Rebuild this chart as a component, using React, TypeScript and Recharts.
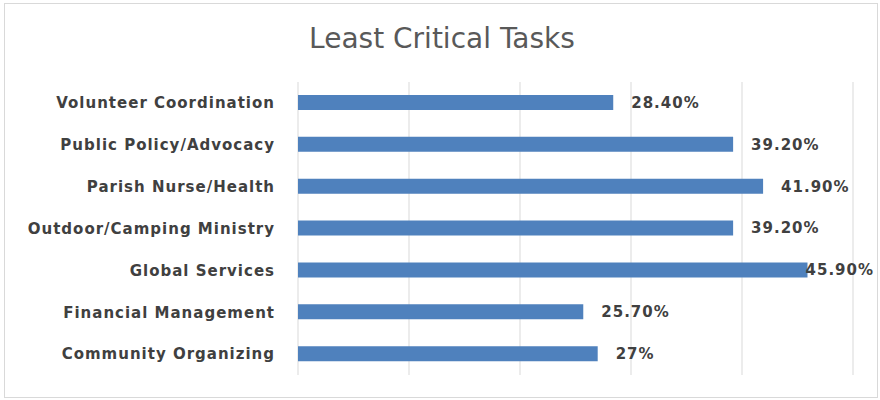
import React from 'react';
import { BarChart, Bar, XAxis, YAxis, CartesianGrid, LabelList } from 'recharts';

const tasks = [
  'Volunteer Coordination',
  'Public Policy/Advocacy',
  'Parish Nurse/Health',
  'Outdoor/Camping Ministry',
  'Global Services',
  'Financial Management',
  'Community Organizing',
];
const percents = [28.4, 39.2, 41.9, 39.2, 45.9, 25.7, 27];
const percentLabels = ['28.40%', '39.20%', '41.90%', '39.20%', '45.90%', '25.70%', '27%'];
const xTicks = [0, 10, 20, 30, 40, 50];

const data = tasks.map((task, i) => ({ task, value: percents[i], label: percentLabels[i] }));

const FONT = '"DejaVu Sans", "Noto Sans", sans-serif';

// value label just past the bar end; pulled back when it would run off the frame
const renderValueLabel = (props: any) => {
  const { x, y, width, height, value } = props;
  const end = Number(x) + Number(width);
  const tooWide = end + 18 + 70 > 874;
  return (
    <text
      x={tooWide ? 874 : end + 18}
      y={Number(y) + Number(height) / 2}
      dy="0.36em"
      textAnchor={tooWide ? 'end' : 'start'}
      fill="#404040"
      fontSize={15}
      fontWeight={700}
      letterSpacing={1}
      fontFamily={FONT}
    >
      {value}
    </text>
  );
};

export default function App() {
  return (
    <div style={{ position: 'relative', width: 880, height: 400, background: '#fff' }}>
      <style>{'body{margin:0}'}</style>
      <div
        style={{
          position: 'absolute',
          left: 4,
          top: 3,
          width: 874,
          height: 395,
          border: '1px solid #d9d9d9',
          boxSizing: 'border-box',
        }}
      />
      <div
        style={{
          position: 'absolute',
          left: 0,
          top: 25,
          width: 884,
          textAlign: 'center',
          fontFamily: FONT,
          fontSize: 28,
          color: '#595959',
          lineHeight: '28px',
          whiteSpace: 'nowrap',
        }}
      >
        Least Critical Tasks
      </div>
      <div style={{ position: 'absolute', left: 0, top: 0 }}>
        <BarChart
          width={880}
          height={400}
          data={data}
          layout="vertical"
          margin={{ top: 82, right: 27, bottom: 25, left: 0 }}
        >
          <CartesianGrid horizontal={false} stroke="#d9d9d9" strokeWidth={1} />
          <XAxis
            type="number"
            domain={[0, 50]}
            ticks={xTicks}
            tick={() => <g />}
            axisLine={false}
            tickLine={false}
            height={0}
          />
          <YAxis
            type="category"
            dataKey="task"
            width={298}
            axisLine={false}
            tickLine={false}
            tickSize={0}
            tickMargin={23}
            tick={{
              fill: '#404040',
              fontSize: 15,
              fontWeight: 700,
              letterSpacing: 1,
              fontFamily: FONT,
            }}
          />
          <Bar dataKey="value" fill="#4f81bd" barSize={15} isAnimationActive={false}>
            <LabelList dataKey="label" content={renderValueLabel} />
          </Bar>
        </BarChart>
      </div>
    </div>
  );
}
